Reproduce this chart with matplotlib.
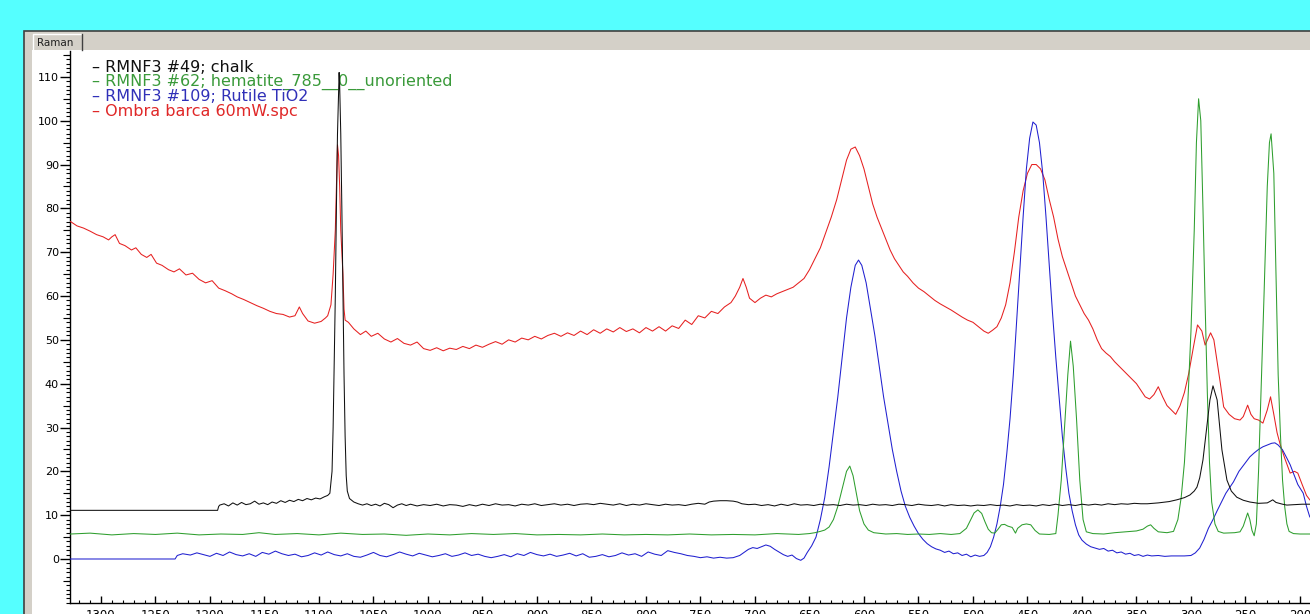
import matplotlib
matplotlib.use("Agg")
import matplotlib.pyplot as plt
from matplotlib.patches import Rectangle
from matplotlib.ticker import MultipleLocator, FixedLocator, NullFormatter

# ---------------- data (wavenumber cm-1, intensity) ----------------
chalk_w = [1328, 1193, 1192, 1191, 1187, 1183, 1179, 1175, 1171, 1167, 1163, 1159, 1155, 1151, 1147,
           1143, 1139, 1135, 1131, 1127, 1123, 1119, 1115, 1111, 1107, 1103, 1099, 1095, 1092, 1090,
           1088, 1087, 1086, 1085, 1084, 1083, 1082, 1081.5, 1081, 1080, 1079, 1078, 1077, 1076, 1075,
           1074, 1072, 1068, 1064, 1060, 1056, 1052, 1048, 1044, 1040, 1036, 1032, 1028, 1024, 1020,
           1016, 1010, 1004, 998, 992, 986, 980, 974, 968, 962, 956, 950, 944, 938, 932, 926, 920, 914,
           908, 902, 896, 890, 884, 878, 872, 866, 860, 854, 848, 842, 836, 830, 824, 818, 812, 806, 800,
           794, 788, 782, 776, 770, 764, 758, 752, 746, 742, 738, 732, 726, 720, 716, 712, 706, 700, 694,
           688, 682, 676, 670, 664, 658, 652, 646, 640, 634, 628, 622, 616, 610, 604, 598, 592, 586, 580,
           574, 568, 562, 556, 550, 544, 538, 532, 526, 520, 514, 508, 502, 496, 490, 484, 478, 472, 466,
           460, 454, 448, 442, 436, 430, 424, 418, 412, 406, 400, 394, 388, 382, 376, 370, 364, 358, 352,
           346, 340, 330, 320, 313, 306, 301, 297, 294.5, 292, 289, 286, 282.6, 279.8, 276, 274, 271.6,
           269, 267, 263, 258, 252, 246, 238, 230, 227, 225, 222, 216, 212, 205, 198, 191]
chalk_v = [11.1, 11.1, 12.0, 12.3, 12.6, 12.1, 12.8, 12.3, 12.9, 12.4, 12.6, 13.2, 12.5, 12.8, 12.4,
           13.0, 12.7, 13.3, 12.9, 13.4, 13.1, 13.6, 13.3, 13.8, 13.5, 13.9, 13.7, 14.2, 14.5, 15.0,
           20, 30, 45, 60, 80, 97, 106, 111, 108, 97, 80, 60, 42, 28, 19,
           15.5, 13.8, 13.0, 12.6, 12.3, 12.6, 12.2, 12.5, 12.1, 12.7, 12.4, 11.7, 12.3, 12.6, 12.2,
           12.5, 12.1, 12.4, 12.2, 12.5, 12.1, 12.4, 12.3, 12.0, 12.4, 12.1, 12.5, 12.2, 12.6, 12.3, 12.4, 12.1, 12.5,
           12.3, 12.6, 12.2, 12.4, 12.6, 12.3, 12.5, 12.2, 12.5, 12.6, 12.4, 12.7, 12.5, 12.3, 12.6, 12.2, 12.5, 12.3, 12.6,
           12.4, 12.2, 12.5, 12.3, 12.4, 12.2, 12.5, 12.7, 12.5, 13.0, 13.2, 13.3, 13.3, 13.2, 13.0, 12.6, 12.4, 12.5, 12.2,
           12.4, 12.1, 12.5, 12.2, 12.6, 12.3, 12.4, 12.2, 12.5, 12.3, 12.4, 12.2, 12.5, 12.3, 12.4, 12.2, 12.5, 12.3, 12.4,
           12.2, 12.5, 12.4, 12.2, 12.5, 12.3, 12.2, 12.4, 12.1, 12.4, 12.2, 12.3, 12.1, 12.3, 12.2, 12.4, 12.2, 12.3, 12.1,
           12.4, 12.2, 12.3, 12.1, 12.4, 12.2, 12.5, 12.2, 12.4, 12.2, 12.5, 12.3, 12.5, 12.3, 12.6, 12.4, 12.6, 12.5, 12.7,
           12.6, 12.6, 12.8, 13.1, 13.5, 14.0, 14.6, 15.5, 16.4, 18.5, 22.6, 29, 36.3, 39.5, 36.3, 31, 24.9,
           21, 18, 15.5, 14.1, 13.4, 13.0, 12.7, 12.8, 13.2, 13.5, 12.9, 12.5, 12.3, 12.4, 12.5, 12.5]

hematite_w = [1328, 1310, 1290, 1270, 1250, 1230, 1210, 1190, 1170, 1155, 1140, 1120, 1100, 1080, 1060,
              1040, 1020, 1000, 980, 960, 940, 920, 900, 880, 860, 840, 820, 800, 780, 760, 740, 720,
              700, 680, 660, 650, 645, 640, 636, 632, 628, 624, 620, 616, 613, 610, 607, 604, 600, 596,
              591, 580, 570, 560, 550, 540, 530, 520, 512, 506, 502, 499, 495.5, 492, 489, 486, 483, 480,
              477, 474, 471, 468, 464, 461, 459, 455, 451, 447, 443, 439, 430, 424, 422, 419, 416, 413,
              410.5, 408, 405, 402, 399, 396, 390, 380, 370, 360, 350, 344, 340, 337, 334, 330, 322, 316,
              312, 309, 306, 303, 300, 297, 295, 293, 291, 289, 287, 285, 283, 281, 278, 275, 270, 260,
              255, 252, 250, 248, 246, 244, 242, 240, 238, 236, 233, 230, 228, 226.5, 224, 222, 220, 218,
              216, 214, 212, 210, 206, 200, 191]
hematite_v = [5.7, 5.9, 5.5, 5.8, 5.6, 5.9, 5.5, 5.7, 5.6, 6.0, 5.6, 5.8, 5.5, 5.9, 5.6,
              5.7, 5.4, 5.7, 5.5, 5.8, 5.6, 5.8, 5.5, 5.6, 5.5, 5.7, 5.5, 5.6, 5.5, 5.7, 5.5, 5.6,
              5.5, 5.8, 5.6, 5.8, 6.0, 6.3, 6.6, 7.3, 9, 12, 16, 20, 21.2, 19, 15, 11, 8, 6.6,
              6.0, 5.7, 5.8, 5.6, 5.7, 5.6, 5.8, 5.6, 5.8, 7.0, 9.0, 10.5, 11.2, 10.4, 8.5, 6.8, 6.0, 5.9,
              6.8, 7.8, 7.9, 7.5, 7.2, 5.9, 7.0, 7.8, 8.0, 7.8, 6.5, 5.7, 5.6, 5.8, 10, 18, 30, 42,
              49.7, 44, 32, 18, 9, 6.2, 5.8, 5.7, 6.0, 6.2, 6.4, 6.8, 7.5, 7.8, 7.0, 6.2, 6.0, 6.3,
              9, 14, 22, 35, 52, 75, 95, 105, 100, 80, 58, 38, 22, 13, 8, 6.3, 5.9, 6.0,
              6.2, 7.5, 9, 10.5, 9, 6.5, 5.3, 8, 20, 36, 60, 85, 95, 97, 88, 65, 42, 28.8,
              18, 11.9, 8, 6.3, 5.8, 5.7, 5.7]

rutile_w = [1328, 1232, 1230, 1225, 1218, 1212, 1206, 1200, 1194, 1188, 1182, 1176, 1170, 1164, 1158,
            1152, 1146, 1140, 1134, 1128, 1122, 1116, 1110, 1104, 1098, 1092, 1086, 1080, 1074, 1068,
            1062, 1056, 1050, 1044, 1038, 1032, 1026, 1020, 1014, 1008, 1002, 996, 990, 984, 978, 972,
            966, 960, 954, 948, 942, 936, 930, 924, 918, 912, 906, 900, 894, 888, 882, 876, 870, 864,
            858, 852, 846, 840, 834, 828, 822, 816, 810, 804, 798, 792, 786, 780, 774, 768, 762, 756,
            750, 744, 738, 732, 726, 720, 714, 710, 706, 702, 698, 694, 690, 686, 682, 678, 674, 670,
            666, 662, 658, 655, 652, 648, 644, 640, 636, 632, 628, 624, 620, 616, 612, 608, 605, 602,
            598, 594, 590, 586, 582, 578, 574, 570, 566, 562, 558, 554, 550, 546, 542, 538, 534, 530,
            526, 522, 518, 514, 510, 506, 502, 498, 494, 490, 487, 484, 481, 478, 475, 472, 469, 466,
            463, 460, 457, 454, 451, 448, 445, 442, 439, 436, 433, 430, 427, 424, 421, 418, 415, 412,
            409, 406, 403, 400, 396, 392, 388, 384, 380, 376, 372, 368, 364, 360, 356, 352, 348, 344,
            340, 336, 330, 324, 318, 312, 306, 300, 296, 292, 288, 284, 280, 276, 272, 268, 264, 261,
            256, 250, 246, 242, 238, 234, 230, 226, 223, 220, 216, 212, 209, 206, 202, 197, 194, 191]
rutile_v = [0, 0, 0.8, 1.2, 0.9, 1.4, 1.0, 0.6, 1.3, 0.8, 1.6, 1.0, 0.7, 1.2, 0.6,
            1.5, 1.1, 1.8, 1.2, 0.8, 1.1, 0.5, 0.8, 1.4, 0.9, 1.6, 1.0, 0.7, 1.2, 0.6,
            0.4, 0.9, 1.5, 0.8, 0.5, 1.0, 1.6, 1.1, 0.7, 1.3, 0.9, 0.5, 0.8, 1.2, 0.6, 0.9,
            1.4, 0.8, 1.1, 0.6, 0.3, 0.6, 1.0, 0.5, 1.2, 0.8, 1.5, 1.0, 0.7, 1.1, 0.6, 0.9, 1.3, 0.7,
            1.2, 0.4, 0.6, 1.0, 0.5, 0.8, 1.4, 0.9, 1.2, 0.6, 1.6, 1.1, 0.8, 1.9, 1.5, 1.2, 0.8, 0.6,
            0.3, 0.5, 0.2, 0.4, 0.2, 0.3, 0.8, 1.5, 2.2, 2.6, 2.4, 2.8, 3.2, 2.9, 2.2, 1.6, 1.0, 0.6,
            0.9, 0.1, -0.3, 0.2, 1.5, 3.0, 5, 9, 14, 21, 29, 37, 46, 55, 62, 67, 68.2, 67,
            63, 57, 51, 44, 37, 31, 25, 20, 15.5, 12, 9.5, 7.5, 5.8, 4.5, 3.5, 2.8, 2.3, 2.0,
            1.5, 1.8, 1.2, 1.4, 0.8, 1.1, 0.5, 0.9, 0.6, 0.8, 1.5, 2.8, 5, 8, 12, 17, 24, 32,
            42, 54, 66, 78, 89, 96, 99.7, 99, 95, 88, 78, 67, 56, 46, 37, 28, 21, 15,
            11, 7.8, 5.5, 4.3, 3.4, 2.8, 2.5, 2.2, 2.4, 1.8, 2.0, 1.4, 1.6, 1.1, 1.3, 0.8, 1.0, 0.6,
            0.9, 0.7, 0.8, 0.6, 0.7, 0.7, 0.7, 0.8, 1.4, 2.5, 4.5, 7, 8.9, 11, 13, 15, 16.5, 17.6,
            20, 22, 23.3, 24.2, 25, 25.6, 26, 26.4, 26.5, 26, 24.9, 23, 21.5, 19.6, 17, 15, 12, 9.6]

ombra_w = [1328, 1322, 1316, 1310, 1304, 1298, 1293, 1290, 1287, 1283, 1278, 1272, 1268, 1263, 1258,
           1254, 1249, 1244, 1238, 1233, 1228, 1222, 1216, 1210, 1204, 1198, 1192, 1186, 1180, 1175,
           1169, 1163, 1157, 1151, 1145, 1139, 1133, 1127, 1122, 1118, 1115, 1110, 1104, 1098, 1094,
           1092, 1089, 1087, 1085, 1084, 1083, 1082, 1081, 1080, 1078, 1077, 1076, 1073, 1068, 1062,
           1057, 1052, 1046, 1040, 1034, 1028, 1022, 1016, 1010, 1004, 998, 992, 986, 980, 974, 968,
           962, 956, 950, 944, 938, 932, 926, 920, 914, 908, 902, 896, 890, 884, 878, 872, 866, 860,
           854, 848, 842, 836, 830, 824, 818, 812, 806, 800, 794, 788, 782, 776, 770, 764, 758, 752,
           746, 740, 734, 728, 722, 718, 714, 711, 708, 705, 700, 695, 690, 685, 680, 675, 670, 665,
           660, 655, 650, 645, 640, 635, 630, 625, 620, 616, 612, 608, 604, 600, 596, 592, 588, 584,
           580, 576, 572, 568, 564, 560, 555, 550, 545, 540, 535, 530, 525, 520, 515, 510, 505, 500,
           495, 490, 486, 482, 478, 474, 470, 466, 462, 458, 454, 450, 446, 442, 438, 434, 430, 426,
           422, 418, 414, 410, 406, 402, 398, 394, 390, 386, 382, 378, 374, 370, 366, 362, 358, 354,
           350, 346, 342, 338, 334, 330, 326, 322, 318, 314, 310, 306, 302, 298, 294, 290, 287, 284,
           282, 279, 276, 273, 270, 265, 260, 255, 252, 248, 245, 242, 238, 234, 230, 227, 224, 221,
           218, 214, 209, 205, 202, 198, 194, 191]
ombra_v = [77, 76, 75.5, 74.8, 74, 73.5, 72.8, 73.5, 74, 72, 71.5, 70.5, 71, 69.5, 68.8,
           69.5, 67.5, 67, 66, 65.5, 66.2, 64.8, 65.2, 63.8, 63, 63.5, 61.8, 61.2, 60.5, 59.8,
           59.2, 58.5, 57.8, 57.2, 56.5, 56, 55.8, 55.2, 55.5, 57.5, 56, 54.3, 53.8, 54.2, 55,
           55.5, 58, 65, 75, 85, 94.5, 92, 85, 75, 65, 57, 54.5, 54, 52.5, 51.2,
           52, 50.8, 51.5, 50.2, 49.5, 50.3, 49.2, 48.8, 49.5, 48, 47.6, 48.2, 47.5, 48.1, 47.8, 48.5,
           48, 48.8, 48.3, 49, 49.6, 49, 50, 49.5, 50.4, 50, 50.8, 50.2, 51, 51.5, 50.8, 51.6, 51, 52,
           51.2, 52.3, 51.5, 52.5, 51.8, 52.8, 51.9, 52.5, 51.6, 52.8, 52, 53, 52, 53.2, 52.6, 54.5, 53.5, 55.5,
           55, 56.5, 56, 57.5, 58.5, 60, 62, 64, 62, 59.5, 58.5, 59.5, 60.2, 59.8, 60.5, 61, 61.5, 62,
           63, 64, 66, 68.5, 71, 74.5, 78, 82, 87, 91, 93.5, 94, 92, 89, 85, 81, 78, 75.5,
           73, 70.5, 68.5, 67, 65.5, 64.5, 63, 61.8, 61, 60, 59, 58.2, 57.5, 56.8, 56, 55.2, 54.5, 54,
           53, 52, 51.5, 52.2, 53, 55, 58, 63, 70, 78, 84, 88, 90, 90, 89, 86.5, 82, 78,
           73, 69, 66, 63, 60, 58, 56, 54.5, 52.5, 50, 48, 47, 46.2, 45, 44, 43, 42, 41,
           40, 38.5, 37, 36.5, 37.5, 39.3, 37, 35, 34, 33, 35, 38, 42.4, 48, 53.4, 52, 48.8, 50.5,
           51.6, 50, 45, 40, 34.7, 33, 32, 31.7, 32.5, 35.1, 33, 32, 31.7, 31, 34, 37, 33, 28.8,
           26, 23, 19.6, 20, 19.6, 17, 14.5, 13.5]

legend_labels = ["RMNF3 #49; chalk", "RMNF3 #62; hematite_785__0__unoriented",
                 "RMNF3 #109; Rutile TiO2", "Ombra barca 60mW.spc"]
y_ticks = [0, 10, 20, 30, 40, 50, 60, 70, 80, 90, 100, 110]
x_ticks = [1300, 1250, 1200, 1150, 1100, 1050, 1000, 950, 900, 850, 800, 750, 700,
           650, 600, 550, 500, 450, 400, 350, 300, 250, 200]

# ---------------- figure ----------------
W, H = 1310, 614
fig = plt.figure(figsize=(W / 100, H / 100), dpi=100, facecolor="#55ffff")

bg = fig.add_axes([0, 0, 1, 1], zorder=0)
bg.set_xlim(0, W)
bg.set_ylim(H, 0)
bg.axis("off")
bg.add_patch(Rectangle((24, 31), W, H, facecolor="#d4d0c8", edgecolor="#404040", lw=1.2))
bg.add_patch(Rectangle((32, 50), W, H, facecolor="white", edgecolor="none"))
# tab
bg.plot([33, 33, 82], [50, 34, 34], color="white", lw=1)
bg.plot([82, 82], [34, 50], color="#404040", lw=1)
bg.text(55, 42.5, "Raman", fontsize=7.5, ha="center", va="center", family="DejaVu Sans", color="#202020")

ax = fig.add_axes([70 / W, 1 - 603 / H, 1 - 70 / W, (603 - 51) / H], zorder=1)
ax.set_facecolor("none")
ax.set_xlim(1328.4, 190.8)
ax.set_ylim(-10.04, 115.9)

lw = 0.75
ax.plot(ombra_w, ombra_v, color="#e62020", lw=lw, zorder=3)
ax.plot(rutile_w, rutile_v, color="#2020d0", lw=lw, zorder=4)
ax.plot(hematite_w, hematite_v, color="#2e9e2e", lw=lw, zorder=5)
ax.plot(chalk_w, chalk_v, color="#101010", lw=lw, zorder=6)

for s in ["top", "right"]:
    ax.spines[s].set_visible(False)
for s in ["left", "bottom"]:
    ax.spines[s].set_linewidth(1.0)

ax.yaxis.set_major_locator(FixedLocator(y_ticks))
ax.yaxis.set_minor_locator(MultipleLocator(1))
ax.tick_params(axis="y", which="major", direction="out", length=7, width=1,
               labelsize=8, pad=1)
ax.tick_params(axis="y", which="minor", direction="out", length=3, width=0.8)
sec = ax.secondary_yaxis("left")
sec.set_yticks([-5, 5, 15, 25, 35, 45, 55, 65, 75, 85, 95, 105, 115])
sec.yaxis.set_major_formatter(NullFormatter())
sec.tick_params(direction="out", length=5, width=0.8)
sec.spines["left"].set_visible(False)

ax.xaxis.set_major_locator(FixedLocator(x_ticks))
ax.xaxis.set_minor_locator(MultipleLocator(10))
ax.tick_params(axis="x", which="major", direction="in", length=5, width=1,
               labelsize=8.5, pad=4)
ax.tick_params(axis="x", which="minor", direction="in", length=2, width=0.8)
for lab in ax.get_xticklabels() + ax.get_yticklabels():
    lab.set_family("DejaVu Sans")

# legend text
text_colors = ["#101010", "#3a9a3a", "#3030b8", "#e02828"]
text_y = [67.5, 82, 96.5, 111.5]
for lbl, c, ty in zip(legend_labels, text_colors, text_y):
    bg.text(92, ty, "– " + lbl, color=c, fontsize=11.5, family="DejaVu Sans",
            va="center", ha="left", zorder=1)

fig.savefig("out.png", dpi=100, facecolor=fig.get_facecolor())
